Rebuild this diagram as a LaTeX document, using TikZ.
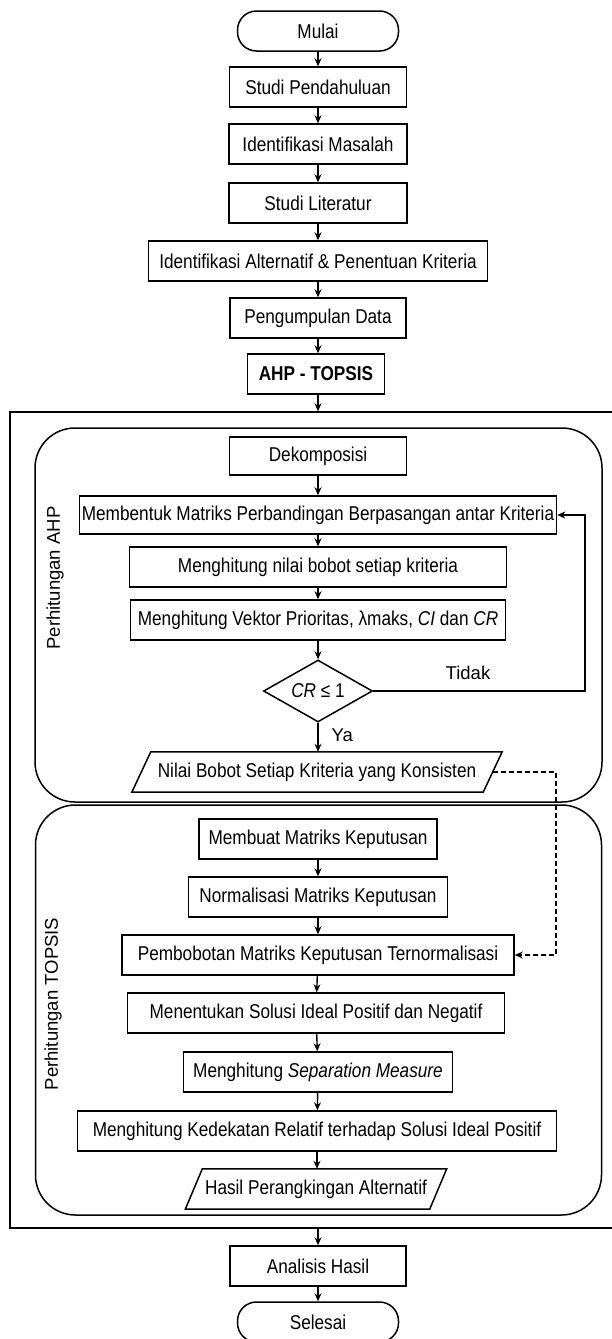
\documentclass[tikz,border=0pt]{standalone}
\usepackage{fontspec}
\setmainfont{Liberation Sans}[FakeStretch=0.86]
\newfontfamily\plainsans{Liberation Sans}
\usetikzlibrary{shapes.geometric,arrows.meta,calc}
\begin{document}
\begin{tikzpicture}[x=1pt,y=-1pt,
  box/.style={draw, line width=1.5pt, minimum height=40, inner sep=1pt, font=\fontsize{20}{23}\selectfont},
  term/.style={box, rounded corners=19},
  txt/.style={inner sep=1pt, minimum height=40, font=\fontsize{20}{23}\selectfont},
  group/.style={draw, line width=1.5pt, rounded corners=40},
  lbl/.style={font=\plainsans\fontsize{18.5}{21}\selectfont},
  arr/.style={line width=1.4pt, -{Stealth[length=8pt,width=7pt]}},
  para/.style={line width=1.5pt}
]
\useasboundingbox (0,0) rectangle (611,1339);
% top sequence
\node[term, minimum width=161] (mulai) at (318,31) {Mulai};
\node[box, minimum width=177] (sp) at (318,87) {Studi Pendahuluan};
\node[box, minimum width=178] (im) at (318,144) {Identifikasi Masalah};
\node[box, minimum width=178] (sl) at (318,203) {Studi Literatur};
\node[box, minimum width=339] (ia) at (318,261) {Identifikasi Alternatif \& Penentuan Kriteria};
\node[box, minimum width=176] (pd) at (318,318) {Pengumpulan Data};
\node[box, minimum width=137, font=\bfseries\fontsize{20}{23}\selectfont] (at) at (316,374) {AHP - TOPSIS};
% frames
\node[draw, line width=1.5pt, minimum width=606, minimum height=816, inner sep=0] (outer) at (313,820) {};
\node[group, minimum width=567, minimum height=374, inner sep=0] (ahp) at (318.5,615) {};
\node[group, minimum width=566, minimum height=410, inner sep=0] (topsis) at (318.5,1010) {};
\node[lbl, rotate=90] (lahp) at (55,578) {Perhitungan AHP};
\node[lbl, rotate=90] (ltop) at (53,1004) {Perhitungan TOPSIS};
% AHP
\node[box, minimum width=177, minimum height=38] (dek) at (318,456) {Dekomposisi};
\node[box, minimum width=477, minimum height=38] (mb) at (318,515) {Membentuk Matriks Perbandingan Berpasangan antar Kriteria};
\node[box, minimum width=377] (mn) at (318,567) {Menghitung nilai bobot setiap kriteria};
\node[box, minimum width=375] (mv) at (318,620) {Menghitung Vektor Prioritas, λmaks, \textit{CI} dan \textit{CR}};
\node[draw, diamond, line width=1.5pt, minimum width=109, minimum height=62, inner sep=0, aspect=1.76, font=\fontsize{20}{23}\selectfont] (d) at (318,691) {\textit{CR} ≤ 1};
\node[lbl] (tidak) at (468,673) {Tidak};
\node[lbl, anchor=west] (ya) at (328,735) {Ya};
\node[txt, minimum width=351] (nb) at (317,772) {Nilai Bobot Setiap Kriteria yang Konsisten};
\draw[para] ($(nb.north west)+(9.5,0)$) -- ($(nb.north east)+(9.5,0)$) -- ($(nb.south east)+(-9.5,0)$) -- ($(nb.south west)+(-9.5,0)$) -- cycle;
% TOPSIS
\node[box, minimum width=238] (mm) at (318,839) {Membuat Matriks Keputusan};
\node[box, minimum width=259] (nm) at (318,897) {Normalisasi Matriks Keputusan};
\node[box, minimum width=392] (pb) at (318,955) {Pembobotan Matriks Keputusan Ternormalisasi};
\node[box, minimum width=377] (ms) at (316,1013) {Menentukan Solusi Ideal Positif dan Negatif};
\node[box, minimum width=269] (sm) at (318,1072) {Menghitung \textit{Separation Measure}};
\node[box, minimum width=479] (kr) at (317,1131) {Menghitung Kedekatan Relatif terhadap Solusi Ideal Positif};
\node[txt, minimum width=244] (hp) at (316,1189) {Hasil Perangkingan Alternatif};
\draw[para] ($(hp.north west)+(8.5,0)$) -- ($(hp.north east)+(8.5,0)$) -- ($(hp.south east)+(-8.5,0)$) -- ($(hp.south west)+(-8.5,0)$) -- cycle;
% bottom
\node[box, minimum width=176] (ah) at (318,1266) {Analisis Hasil};
\node[term, minimum width=161] (sel) at (318,1322) {Selesai};
% coordinates
\coordinate (loopx) at (585,0);
\coordinate (dashx) at (556,0);
% arrows
\draw[arr] (mulai) -- (sp);
\draw[arr] (sp) -- (im);
\draw[arr] (im) -- (sl);
\draw[arr] (sl) -- (ia);
\draw[arr] (ia) -- (pd);
\draw[arr] (pd) -- (pd |- at.north);
\draw[arr] (pd |- at.south) -- (pd |- outer.north);
\draw[arr] (dek) -- (mb);
\draw[arr] (mb) -- (mn);
\draw[arr] (mn) -- (mv);
\draw[arr] (mv) -- (d);
\draw[arr] (d.south) -- (d.south |- nb.north);
\draw[arr] (d.east) -- (d.east -| loopx) |- (mb.east);
\draw[arr, dashed, dash pattern=on 5pt off 3pt] (nb.east) -- (nb.east -| dashx) |- (pb.east);
\draw[arr] (mm) -- (nm);
\draw[arr] (nm) -- (pb);
\draw[arr] (pb) -- (ms);
\draw[arr] (ms) -- (sm);
\draw[arr] (sm) -- (kr);
\draw[arr] (kr) -- (kr |- hp.north);
\draw[arr] (outer.south -| ah.north) -- (ah.north);
\draw[arr] (ah) -- (sel);
\end{tikzpicture}
\end{document}
